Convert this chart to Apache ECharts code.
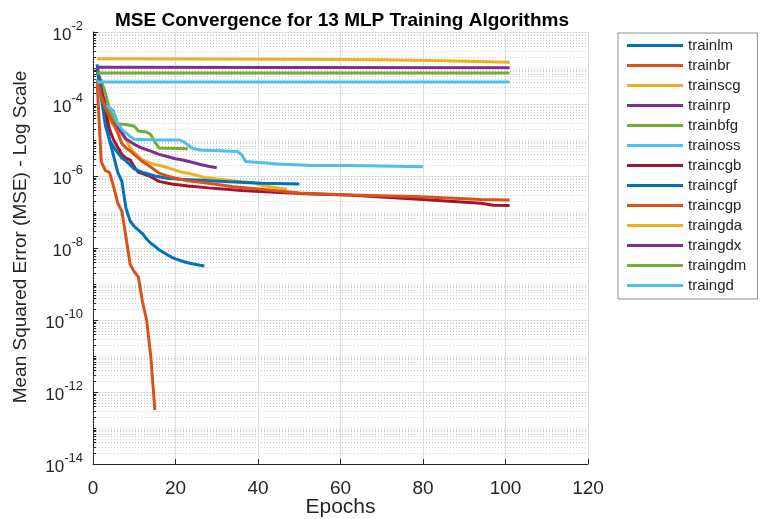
<!DOCTYPE html>
<html>
<head>
<meta charset="utf-8">
<script src="https://cdn.jsdelivr.net/npm/echarts@6/dist/echarts.min.js"></script>
<style>
  html, body { margin: 0; padding: 0; background: #fff; }
  #chart { width: 761px; height: 519px; }
</style>
</head>
<body>
<div id="chart"></div>
<script>
// [epoch, mse]
var trainlm = [[1,1.0e-3],[2,1.78e-4],[3,3.63e-5],[4,1.0e-5],[5,3.55e-6],[6,1.26e-6],[7,7.08e-7],[8,1.26e-7],[9,5.62e-8],[10,3.98e-8],[11,3.16e-8],[12,2.51e-8],[13,1.78e-8],[14,1.35e-8],[15,1.12e-8],[16,8.91e-9],[17,7.59e-9],[18,6.46e-9],[19,5.62e-9],[20,5.01e-9],[21,4.57e-9],[22,4.17e-9],[23,3.89e-9],[24,3.63e-9],[25,3.47e-9],[26,3.31e-9],[27,3.16e-9]];
var trainbr = [[1,3.98e-4],[2,2.51e-6],[3,1.41e-6],[4,1.26e-6],[5,5.01e-7],[6,1.78e-7],[7,1.05e-7],[8,2.0e-8],[9,3.55e-9],[10,2.19e-9],[11,1.58e-9],[12,3.16e-10],[13,1.0e-10],[14,1.0e-11],[15,3.16e-13]];
var trainscg = [[1,1.0e-3],[2,1.58e-4],[3,6.31e-5],[4,3.55e-5],[5,2.51e-5],[6,2.0e-5],[7,1.41e-5],[8,1.0e-5],[9,6.31e-6],[10,4.47e-6],[11,3.55e-6],[12,2.82e-6],[13,2.51e-6],[15,2.09e-6],[17,1.86e-6],[19,1.58e-6],[21,1.32e-6],[23,1.2e-6],[25,1.05e-6],[27,9.12e-7],[30,8.32e-7],[33,7.59e-7],[36,6.92e-7],[39,6.46e-7],[41,5.5e-7],[43,5.01e-7],[45,4.68e-7],[47,4.27e-7]];
var trainrp = [[1,1.0e-3],[2,2.51e-4],[3,1.0e-4],[4,5.01e-5],[5,3.16e-5],[6,2.24e-5],[7,1.58e-5],[8,1.07e-5],[10,7.59e-6],[12,5.89e-6],[14,4.9e-6],[16,3.98e-6],[18,3.47e-6],[20,3.02e-6],[22,2.75e-6],[24,2.4e-6],[26,2.09e-6],[28,1.86e-6],[30,1.7e-6]];
var trainbfg = [[1,7.24e-4],[2,4.47e-4],[3,2.0e-4],[4,7.08e-5],[5,3.98e-5],[6,2.82e-5],[8,2.69e-5],[10,2.4e-5],[11,1.78e-5],[13,1.66e-5],[14,1.41e-5],[15,8.91e-6],[16,6.03e-6],[23,5.75e-6]];
var trainoss = [[1,5.01e-4],[2,1.26e-4],[3,8.91e-5],[4,7.94e-5],[5,6.31e-5],[6,2.82e-5],[7,2.0e-5],[8,1.58e-5],[9,1.26e-5],[10,1.05e-5],[15,1.0e-5],[21,1.0e-5],[22,8.91e-6],[24,5.89e-6],[26,5.25e-6],[35,4.79e-6],[36,3.98e-6],[37,2.51e-6],[41,2.34e-6],[45,2.14e-6],[53,1.95e-6],[62,1.95e-6],[70,1.91e-6],[80,1.82e-6]];
var traincgb = [[1,1.0e-3],[2,2.51e-4],[3,6.31e-5],[4,2.0e-5],[5,1.0e-5],[6,6.31e-6],[7,3.98e-6],[8,3.16e-6],[9,2.82e-6],[10,1.78e-6],[11,1.26e-6],[12,1.17e-6],[14,9.55e-7],[16,7.08e-7],[19,6.03e-7],[23,5.25e-7],[28,4.68e-7],[36,3.98e-7],[44,3.55e-7],[53,3.16e-7],[62,2.95e-7],[78,2.29e-7],[94,1.74e-7],[97,1.55e-7],[101,1.51e-7]];
var traincgf = [[1,1.26e-3],[2,1.58e-4],[3,2.51e-5],[4,1.0e-5],[5,6.31e-6],[6,4.47e-6],[7,3.16e-6],[8,2.63e-6],[10,1.58e-6],[12,1.26e-6],[13,1.17e-6],[15,1.0e-6],[18,8.71e-7],[21,8.13e-7],[25,7.76e-7],[33,6.92e-7],[41,6.31e-7],[50,6.03e-7]];
var traincgp = [[1,4.47e-4],[2,1.58e-4],[3,7.94e-5],[4,4.47e-5],[5,2.82e-5],[6,1.58e-5],[7,7.94e-6],[8,6.03e-6],[9,5.01e-6],[10,3.98e-6],[11,3.16e-6],[12,2.51e-6],[14,1.78e-6],[16,1.2e-6],[18,1.0e-6],[20,8.71e-7],[23,7.41e-7],[28,6.31e-7],[34,5.01e-7],[42,4.17e-7],[50,3.39e-7],[62,2.95e-7],[78,2.69e-7],[94,2.24e-7],[101,2.14e-7]];
var traingda = [[1,1.8e-3],[50,1.75e-3],[70,1.7e-3],[85,1.6e-3],[101,1.45e-3]];
var traingdx = [[1,1.05e-3],[101,1.02e-3]];
var traingdm = [[1,7.3e-4],[101,7.3e-4]];
var traingd = [[1,4.1e-4],[101,4.1e-4]];

var names = ['trainlm','trainbr','trainscg','trainrp','trainbfg','trainoss','traincgb','traincgf','traincgp','traingda','traingdx','traingdm','traingd'];
var values = [trainlm, trainbr, trainscg, trainrp, trainbfg, trainoss, traincgb, traincgf, traincgp, traingda, traingdx, traingdm, traingd];
var colors = ['#0072BD','#D95319','#EDB120','#7E2F8E','#77AC30','#4DBEEE','#A2142F','#0072BD','#D95319','#EDB120','#7E2F8E','#77AC30','#4DBEEE'];

var xTicks = [0, 20, 40, 60, 80, 100, 120];
var xMin = 0, xMax = 120;
var yMin = 1e-14, yMax = 1e-2;

var font = '"Liberation Sans", Arial, Helvetica, sans-serif';
var textColor = '#262626';

// minor log grid: 1..9 x 10^k that are not labelled ticks
var minorVals = [];
for (var k = -14; k < -2; k++) {
  for (var m = 1; m <= 9; m++) {
    if (m === 1 && k % 2 === 0) continue;
    minorVals.push([xMin, m * Math.pow(10, k)]);
  }
}

var series = [{
  name: '_grid',
  type: 'custom',
  silent: true,
  z: 1,
  clip: false,
  data: minorVals,
  renderItem: function (params, api) {
    var v = api.value(1);
    var a = api.coord([xMin, v]);
    var b = api.coord([xMax, v]);
    var y = Math.round(a[1]) + 0.5;
    return {
      type: 'group',
      children: [{
        type: 'line',
        shape: { x1: a[0], y1: y, x2: b[0], y2: y },
        style: { stroke: '#cfcfcf', lineWidth: 1, lineDash: [1, 2] }
      }, {
        type: 'line',
        shape: { x1: a[0], y1: y, x2: a[0] + 3, y2: y },
        style: { stroke: textColor, lineWidth: 1 }
      }]
    };
  }
}];
names.forEach(function (n, i) {
  series.push({
    name: n,
    type: 'line',
    data: values[i],
    showSymbol: false,
    symbol: 'none',
    z: 3,
    lineStyle: { width: 3, color: colors[i] },
    itemStyle: { color: colors[i] }
  });
});

var chart = echarts.init(document.getElementById('chart'));
chart.setOption({
  animation: false,
  backgroundColor: '#fff',
  title: {
    text: 'MSE Convergence for 13 MLP Training Algorithms',
    left: 337, top: 6,
    textAlign: 'center',
    textStyle: { fontFamily: font, fontSize: 19, fontWeight: 'bold', color: '#000' }
  },
  legend: {
    data: names,
    orient: 'vertical',
    left: 618, top: 33,
    icon: 'rect',
    itemWidth: 56, itemHeight: 3,
    itemGap: 5,
    padding: [5, 11, 6, 9],
    borderColor: '#8c8c8c', borderWidth: 1,
    backgroundColor: '#fff',
    textStyle: { fontFamily: font, fontSize: 15, color: textColor }
  },
  grid: { left: 93, top: 32, width: 495, height: 432, outerBoundsMode: 'none', containLabel: false },
  xAxis: {
    type: 'value',
    min: xMin, max: xMax, interval: 20,
    name: 'Epochs',
    nameLocation: 'middle',
    nameGap: 33,
    nameMoveOverlap: false,
    nameTextStyle: { fontFamily: font, fontSize: 21, color: textColor },
    axisLine: { show: true, lineStyle: { color: textColor, width: 1 } },
    axisTick: { show: true, inside: true, length: 5, lineStyle: { color: textColor } },
    axisLabel: {
      fontFamily: font, fontSize: 19, color: textColor, margin: 15,
      formatter: function (v) { return xTicks.indexOf(v) >= 0 ? String(v) : ''; }
    },
    splitLine: { show: true, lineStyle: { color: '#dedede', width: 1 } }
  },
  yAxis: {
    type: 'log',
    logBase: 10,
    min: yMin, max: yMax, interval: 2,
    name: 'Mean Squared Error (MSE) - Log Scale',
    nameLocation: 'middle',
    nameGap: 63,
    nameMoveOverlap: false,
    nameTextStyle: { fontFamily: font, fontSize: 19, color: textColor, padding: [0, 0, 0, 22] },
    axisLine: { show: true, lineStyle: { color: textColor, width: 1 } },
    axisTick: { show: true, inside: true, length: 5, lineStyle: { color: textColor } },
    axisLabel: {
      margin: 10,
      formatter: function (v) {
        var e = Math.round(Math.log10(v));
        return '{b|10}{s|' + e + '}';
      },
      rich: {
        b: { fontFamily: font, fontSize: 17, color: textColor, verticalAlign: 'bottom', lineHeight: 24 },
        s: { fontFamily: font, fontSize: 13, color: textColor, verticalAlign: 'top', lineHeight: 24 }
      }
    },
    splitLine: { show: true, lineStyle: { color: '#dedede', width: 1 } }
  },
  series: series
});
</script>
</body>
</html>
